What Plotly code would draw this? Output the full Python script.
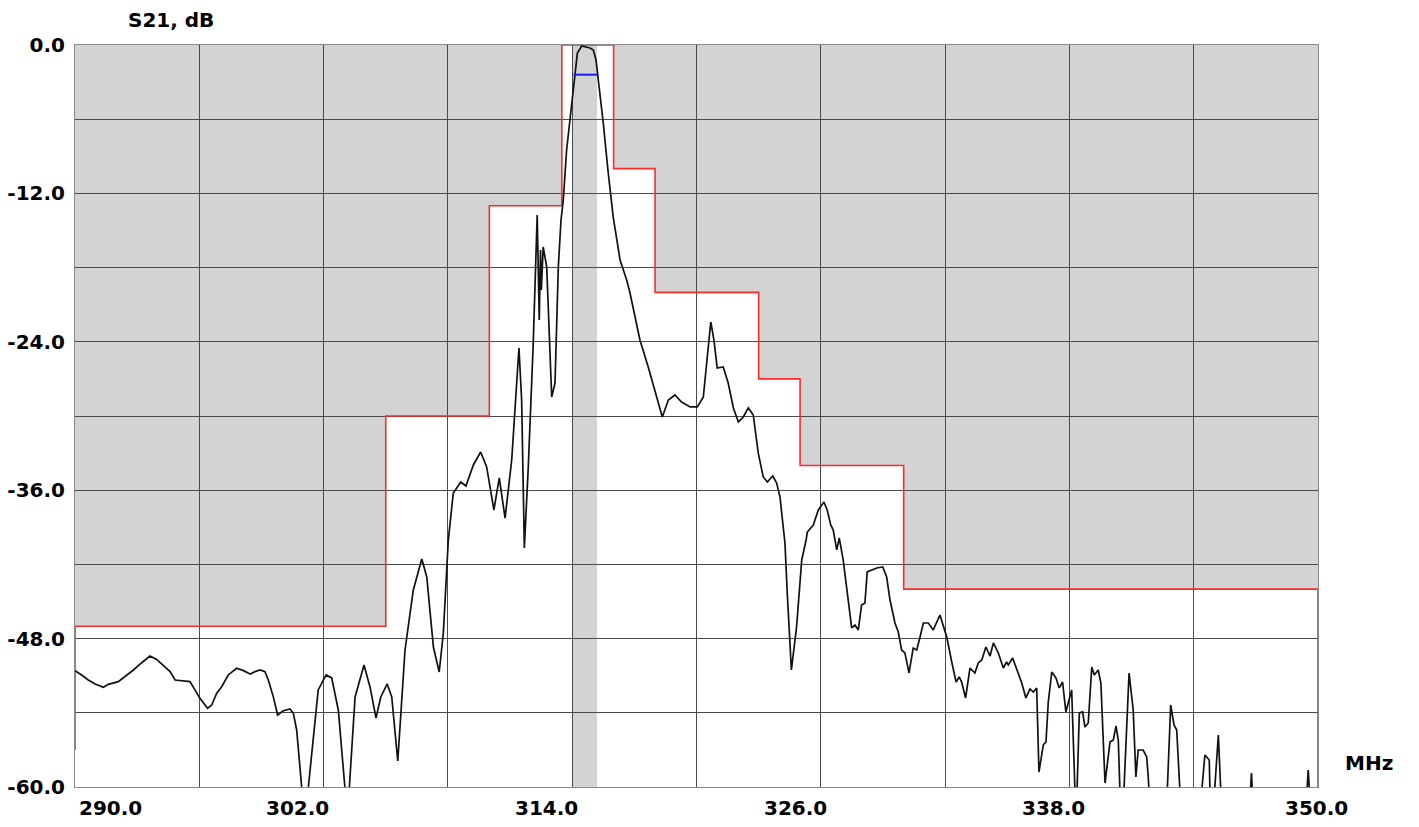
import plotly.graph_objects as go

# Measured transmission S21 (MHz, dB); values below -60 dB fall off the bottom of the plot
freq_mhz = [
    290.00, 290.08, 290.32, 290.64, 290.97, 291.37, 291.61, 292.09, 292.41, 292.82,
    293.22, 293.62, 293.94, 294.26, 294.59, 294.83, 295.15, 295.55, 295.79, 296.03,
    296.40, 296.60, 296.84, 297.08, 297.40, 297.80, 298.13, 298.45, 298.69, 298.93,
    299.17, 299.33, 299.57, 299.78, 300.06, 300.38, 300.54, 300.70, 300.94,
    301.13, 301.26,
    301.74, 302.12, 302.39, 302.71, 303.03, 303.13, 303.24, 303.52, 303.95, 304.24,
    304.53, 304.76, 305.07, 305.29, 305.58, 305.93, 306.33, 306.74, 306.98, 307.30,
    307.58, 307.78, 308.02, 308.26, 308.62, 308.87, 309.23, 309.58, 309.87, 310.22,
    310.48, 310.76, 311.08, 311.43, 311.56, 311.69, 311.88, 312.12, 312.31, 312.41,
    312.47, 312.51, 312.60, 312.77, 313.01, 313.17, 313.33, 313.46, 313.57, 313.73,
    313.97, 314.10, 314.25, 314.46, 314.70, 314.86, 315.02, 315.15, 315.26, 315.50,
    315.74, 315.98, 316.31, 316.63, 316.79, 317.27, 317.67, 318.08, 318.35, 318.64,
    318.96, 319.28, 319.69, 320.04, 320.33, 320.52, 320.69, 320.84, 321.00, 321.29,
    321.53, 321.78, 322.02, 322.26, 322.50, 322.74, 322.98, 323.22, 323.42, 323.68,
    323.87, 324.03, 324.27, 324.38, 324.58, 324.83, 325.08, 325.29, 325.35, 325.64,
    325.88, 326.15, 326.31, 326.48, 326.60, 326.77, 326.89, 327.08, 327.33, 327.49,
    327.65, 327.81, 327.97, 328.13, 328.24, 328.46, 328.70, 328.99, 329.18, 329.34,
    329.58, 329.74, 329.90, 330.06, 330.26, 330.46, 330.63, 330.79, 330.95, 331.19,
    331.43, 331.75, 332.08, 332.32, 332.53, 332.68, 332.80, 332.99, 333.20, 333.44,
    333.60, 333.77, 333.97, 334.17, 334.33, 334.57, 334.81, 334.97, 335.05, 335.26,
    335.45, 335.70, 335.90, 336.10, 336.26, 336.42, 336.53, 336.74, 336.87, 336.98,
    337.15, 337.35, 337.51, 337.67, 337.83, 337.94, 338.11, 338.32, 338.48, 338.64,
    338.75, 338.91, 339.08, 339.20, 339.39, 339.52, 339.72, 339.96, 340.12, 340.25,
    340.36, 340.49, 340.64, 340.88, 341.08, 341.21, 341.32, 341.56, 341.73, 341.80,
    341.93, 342.66, 342.89, 343.05, 343.18, 343.42, 344.30, 344.54, 344.75, 344.81,
    344.94, 345.19, 345.35, 346.68, 346.79, 346.87, 349.40, 349.53, 349.64, 350.00,
]
s21_db = [
    -50.60, -50.67, -50.94, -51.35, -51.67, -51.94, -51.70, -51.48, -51.08, -50.54,
    -49.95, -49.41, -49.68, -50.13, -50.67, -51.35, -51.40, -51.48, -52.15, -52.83,
    -53.64, -53.37, -52.42, -51.89, -50.94, -50.40, -50.59, -50.86, -50.67, -50.54,
    -50.67, -51.35, -52.69, -54.18, -53.83, -53.69, -54.04, -55.39, -59.97,
    -65.00, -60.08,
    -52.15, -50.94, -51.18, -53.77, -60.08, -65.00, -60.08, -52.72, -50.13, -51.91,
    -54.42, -52.72, -51.67, -52.72, -57.90, -48.92, -44.07, -41.56, -43.02, -48.68,
    -50.70, -47.55, -40.03, -36.23, -35.34, -35.66, -33.96, -32.91, -34.12, -37.60,
    -35.01, -38.25, -33.56, -24.50, -28.71, -40.67, -34.12, -24.10, -13.75, -22.24,
    -16.58, -19.81, -16.33, -17.95, -28.46, -27.33, -17.95, -14.15, -12.53, -8.49,
    -5.01, -2.67, -0.65, -0.08, -0.16, -0.24, -0.40, -1.21, -2.83, -6.31,
    -10.35, -13.91, -17.38, -19.00, -20.05, -23.85, -26.04, -28.46, -30.08, -28.71,
    -28.30, -28.87, -29.27, -29.27, -28.46, -25.23, -22.40, -23.85, -26.12, -26.04,
    -27.33, -29.35, -30.48, -30.08, -29.35, -29.92, -32.99, -34.93, -35.34, -34.85,
    -35.42, -36.55, -40.27, -44.31, -50.54, -47.06, -41.64, -40.03, -39.38, -38.81,
    -37.60, -36.95, -37.60, -38.81, -39.22, -40.83, -39.86, -41.64, -44.88, -47.14,
    -46.90, -47.30, -45.28, -45.12, -42.61, -42.45, -42.29, -42.21, -43.02, -44.88,
    -46.74, -47.47, -48.92, -49.16, -50.78, -48.76, -48.92, -47.87, -46.74, -46.74,
    -47.30, -46.09, -47.87, -49.89, -51.51, -51.10, -51.51, -52.80, -50.38, -50.78,
    -49.97, -49.73, -48.68, -49.41, -48.35, -49.16, -50.38, -49.89, -50.13, -49.57,
    -50.38, -51.59, -52.80, -52.07, -52.32, -51.99, -58.79, -56.60, -56.36, -53.13,
    -50.70, -51.18, -51.99, -51.51, -53.93, -53.21, -52.15, -63.00, -54.01, -53.93,
    -55.15, -54.82, -50.30, -50.94, -50.54, -51.59, -59.68, -56.36, -56.20, -55.07,
    -56.20, -63.00, -60.00, -50.78, -53.77, -59.19, -57.01, -57.01, -57.57, -59.03,
    -63.00, -63.00, -53.37, -54.98, -55.39, -63.00, -62.00, -57.41, -57.82, -62.00,
    -62.00, -55.79, -62.00, -62.00, -58.87, -62.00, -62.00, -58.62, -62.00, -66.00,
]

# Limit mask: each step starts at mask_start_mhz and holds mask_limit_db until the next step
mask_start_mhz = [290, 305, 310, 313.5, 316, 318, 323, 325, 330]
mask_end_mhz = [305, 310, 313.5, 316, 318, 323, 325, 330, 350]
mask_limit_db = [-47, -30, -13, 0, -10, -20, -27, -34, -44]
mask_left_floor_db = -57
mask_right_floor_db = -60

# Passband marker
band_lo_mhz, band_hi_mhz = 314.0, 315.2
band_level_db = -2.4

x_ticks = [290, 302, 314, 326, 338, 350]
x_tick_labels = ["290.0", "302.0", "314.0", "326.0", "338.0", "350.0"]
x_label_shift_px = [35, -26, -26, -25, -16, -2]
y_grid = [0, -6, -12, -18, -24, -30, -36, -42, -48, -54, -60]
y_tick_labels = ["0.0", "", "-12.0", "", "-24.0", "", "-36.0", "", "-48.0", "", "-60.0"]

FONT = "DejaVu Sans"
GRAY = "#d3d3d3"
GRID = "#4a4a4a"

fig = go.Figure()

# Forbidden region above the mask as one closed polygon (data coordinates)
pts = [(mask_start_mhz[0], 0)]
for x0, x1, lim in zip(mask_start_mhz, mask_end_mhz, mask_limit_db):
    pts.append((x0, lim))
    pts.append((x1, lim))
pts.append((mask_end_mhz[-1], 0))
mask_path = "M " + " L ".join(f"{x},{y}" for x, y in pts) + " Z"

shapes = [
    dict(type="path", xref="x", yref="y", path=mask_path,
         fillcolor=GRAY, line=dict(width=0), layer="below"),
    dict(type="rect", xref="x", yref="y", x0=band_lo_mhz, x1=band_hi_mhz,
         y0=-60, y1=0, fillcolor=GRAY, line=dict(width=0), layer="below"),
]

# Red mask outline
mask_x = [mask_start_mhz[0]] + mask_start_mhz + [mask_end_mhz[-1], mask_end_mhz[-1]]
mask_y = [mask_left_floor_db] + mask_limit_db + [mask_limit_db[-1], mask_right_floor_db]
fig.add_trace(go.Scatter(x=mask_x, y=mask_y, mode="lines", line_shape="hv",
                         line=dict(color="#ff2a2a", width=1.6), hoverinfo="skip"))

# Response curve
fig.add_trace(go.Scatter(x=freq_mhz, y=s21_db, mode="lines",
                         line=dict(color="#111111", width=1.7)))

# Passband level marker
fig.add_trace(go.Scatter(x=[band_lo_mhz + 0.06, band_hi_mhz], y=[band_level_db, band_level_db],
                         mode="lines", line=dict(color="#1a1aff", width=2)))

annotations = []
for v, txt, sh in zip(x_ticks, x_tick_labels, x_label_shift_px):
    annotations.append(dict(x=v, y=0, xref="x", yref="paper", text=txt, showarrow=False,
                            xanchor="center", yanchor="middle", xshift=sh, yshift=-21,
                            font=dict(family=FONT, size=20, color="#000", weight="bold")))
annotations.append(dict(x=0, y=1, xref="paper", yref="paper", text="S21, dB", showarrow=False,
                        xanchor="left", yanchor="middle", xshift=51, yshift=25,
                        font=dict(family=FONT, size=20, color="#000", weight="bold")))
annotations.append(dict(x=1, y=0, xref="paper", yref="paper", text="MHz", showarrow=False,
                        xanchor="left", yanchor="middle", xshift=25, yshift=24,
                        font=dict(family=FONT, size=20, color="#000", weight="bold")))

fig.update_layout(
    width=1419, height=827,
    margin=dict(l=75, r=101, t=45, b=40, autoexpand=False),
    paper_bgcolor="white", plot_bgcolor="white",
    showlegend=False,
    shapes=shapes,
    annotations=annotations,
    xaxis=dict(range=[290, 350], tickvals=list(range(290, 351, 6)), showticklabels=False,
               ticks="", showgrid=True, gridcolor=GRID, gridwidth=1, zeroline=False,
               automargin=False,
               showline=True, mirror=True, linecolor="#8a8a8a", linewidth=1),
    yaxis=dict(range=[-60, 0], tickvals=y_grid, ticktext=y_tick_labels, ticks="",
               ticklabelstandoff=5, automargin=False,
               tickfont=dict(family=FONT, size=20, color="#000", weight="bold"),
               showgrid=True, gridcolor=GRID, gridwidth=1, zeroline=False,
               showline=True, mirror=True, linecolor="#8a8a8a", linewidth=1),
)

fig.write_html("out.html")
